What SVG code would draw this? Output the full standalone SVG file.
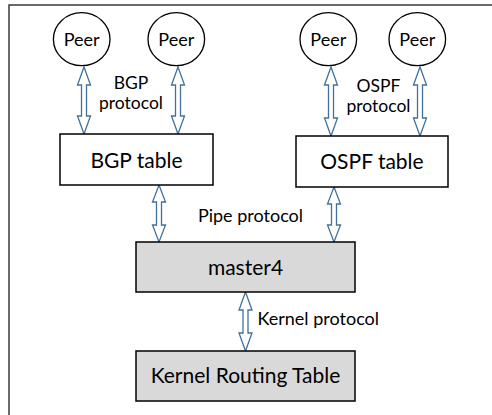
<svg xmlns="http://www.w3.org/2000/svg" width="492" height="415" viewBox="0 0 492 415">
<style>
.frame{fill:none;stroke:#3a3a3a;stroke-width:1.5}
.peer{fill:#fff;stroke:#000;stroke-width:1.3}
.box{fill:#fff;stroke:#000;stroke-width:1.5}
.gbox{fill:#d9d9d9;stroke:#000;stroke-width:1.5}
.arr{fill:#fff;stroke:#41719c;stroke-width:1.3;stroke-linejoin:miter}
text{font-family:Lato,"Liberation Sans",sans-serif;fill:#000}
.pt{font-size:18px;text-anchor:middle}
.lb{font-size:18px}
.lb2{font-size:17.5px;text-anchor:middle}
.bt{font-size:21px;text-anchor:middle}
</style>
<polyline class="frame" points="9,415 9,5 492,5"/>
<g id="connectors">
<polygon class="arr" points="84,67 90.5,85 86.5,85 86.5,116 90.5,116 84,134 77.5,116 81.5,116 81.5,85 77.5,85"/>
<polygon class="arr" points="178,67 184.5,85 180.5,85 180.5,116 184.5,116 178,134 171.5,116 175.5,116 175.5,85 171.5,85"/>
<polygon class="arr" points="331,67 337.5,85 333.5,85 333.5,118 337.5,118 331,136 324.5,118 328.5,118 328.5,85 324.5,85"/>
<polygon class="arr" points="420,67 426.5,85 422.5,85 422.5,118 426.5,118 420,136 413.5,118 417.5,118 417.5,85 413.5,85"/>
<polygon class="arr" points="159,185 165.5,202 161.5,202 161.5,225 165.5,225 159,242 152.5,225 156.5,225 156.5,202 152.5,202"/>
<polygon class="arr" points="334,187 340.5,204 336.5,204 336.5,225 340.5,225 334,242 327.5,225 331.5,225 331.5,204 327.5,204"/>
<polygon class="arr" points="245.5,292 252,310 248,310 248,333 252,333 245.5,351 239,333 243,333 243,310 239,310"/>
<text class="lb2" x="131" y="88.5">BGP</text>
<text class="lb2" x="131" y="109">protocol</text>
<text class="lb2" x="378.5" y="92">OSPF</text>
<text class="lb2" x="378.5" y="112">protocol</text>
<text class="lb" x="250.5" y="221.5" text-anchor="middle">Pipe protocol</text>
<text class="lb" x="257.5" y="324.5">Kernel protocol</text>
</g>
<g id="peer1"><ellipse class="peer" cx="81.7" cy="39.2" rx="28.3" ry="26.5"/><text class="pt" x="81.7" y="46">Peer</text></g>
<g id="peer2"><ellipse class="peer" cx="176.3" cy="39.2" rx="28.3" ry="26.5"/><text class="pt" x="176.3" y="46">Peer</text></g>
<g id="peer3"><ellipse class="peer" cx="328.3" cy="39.2" rx="28.3" ry="26.5"/><text class="pt" x="328.3" y="46">Peer</text></g>
<g id="peer4"><ellipse class="peer" cx="417.3" cy="39.2" rx="28.3" ry="26.5"/><text class="pt" x="417.3" y="46">Peer</text></g>
<g id="bgp-table"><rect class="box" x="60" y="134" width="153" height="51"/><text class="bt" x="136.5" y="167.5">BGP table</text></g>
<g id="ospf-table"><rect class="box" x="296" y="136" width="152" height="51"/><text class="bt" x="372" y="168.5">OSPF table</text></g>
<g id="master4"><rect class="gbox" x="136" y="242" width="219" height="50"/><text class="bt" x="245.5" y="275">master4</text></g>
<g id="kernel-table"><rect class="gbox" x="136" y="351" width="219" height="50"/><text class="bt" x="245.5" y="383">Kernel Routing Table</text></g>
</svg>
